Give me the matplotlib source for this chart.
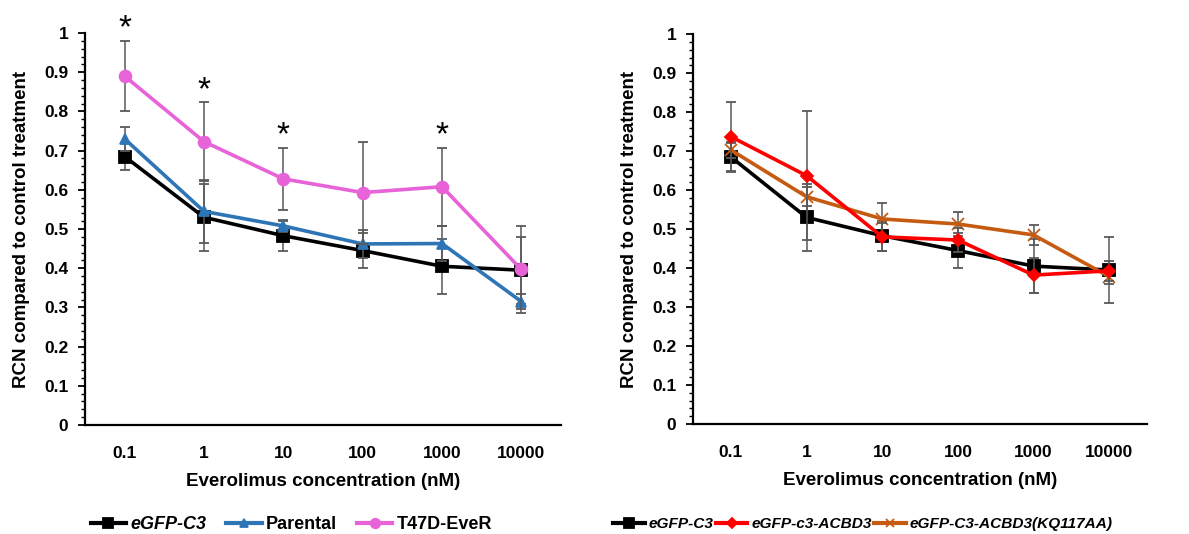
import matplotlib
matplotlib.use("Agg")
import matplotlib.pyplot as plt
from matplotlib.ticker import MultipleLocator, FuncFormatter
from matplotlib.lines import Line2D

plt.rcParams['font.family'] = ['Liberation Sans', 'DejaVu Sans']
plt.rcParams['font.weight'] = 'bold'

concentrations = ["0.1", "1", "10", "100", "1000", "10000"]

# Left panel
egfp_c3 = [0.685, 0.530, 0.483, 0.445, 0.405, 0.395]
egfp_c3_err = [0.035, 0.085, 0.038, 0.045, 0.070, 0.085]
parental = [0.730, 0.545, 0.508, 0.462, 0.463, 0.315]
parental_err = [0.030, 0.080, 0.015, 0.035, 0.045, 0.020]
t47d_ever = [0.890, 0.723, 0.628, 0.593, 0.608, 0.397]
t47d_ever_err = [0.090, 0.100, 0.080, 0.130, 0.100, 0.110]
significant = [True, True, True, False, True, False]

# Right panel
acbd3 = [0.737, 0.637, 0.480, 0.472, 0.382, 0.393]
acbd3_err = [0.090, 0.165, 0.035, 0.030, 0.045, 0.025]
kq117aa = [0.703, 0.583, 0.526, 0.513, 0.485, 0.378]
kq117aa_err = [0.020, 0.025, 0.040, 0.030, 0.025, 0.020]

BLACK = "#000000"
BLUE = "#2E75B6"
PINK = "#E862D8"
RED = "#FF0000"
ORANGE = "#C55A11"
ERR = "#595959"

fig = plt.figure(figsize=(11.89, 5.34), dpi=100)
ax1 = fig.add_axes([0.0715, 0.2041, 0.4003, 0.734])
ax2 = fig.add_axes([0.5829, 0.206, 0.3818, 0.730])

x = list(range(len(concentrations)))


def series(ax, y, err, color, marker, ms, z):
    ax.errorbar(x, y, yerr=err, color=color, marker=marker, markersize=ms,
                linewidth=2.6, ecolor=ERR, elinewidth=1.1, capsize=3.5,
                capthick=1.1, zorder=z,
                markeredgecolor=color, markeredgewidth=1.3)
    return Line2D([], [], color=color, marker=marker, markersize=ms * 0.8,
                  linewidth=3.0, markeredgecolor=color, markeredgewidth=1.3)


def tick_fmt(v, _):
    s = f"{v:.1f}"
    return {"0.0": "0", "1.0": "1"}.get(s, s)


for ax in (ax1, ax2):
    ax.set_xlim(-0.5, 5.5)
    ax.set_ylim(0, 1)
    ax.set_xticks(x)
    ax.set_xticklabels(concentrations)
    ax.yaxis.set_major_locator(MultipleLocator(0.1))
    ax.yaxis.set_minor_locator(MultipleLocator(0.02))
    ax.yaxis.set_major_formatter(FuncFormatter(tick_fmt))
    ax.spines['top'].set_visible(False)
    ax.spines['right'].set_visible(False)
    ax.spines['left'].set_linewidth(1.6)
    ax.spines['bottom'].set_linewidth(1.6)
    ax.tick_params(axis='x', length=0, pad=15, labelsize=12.5)
    ax.tick_params(axis='y', which='major', length=5, width=1.3, labelsize=12.5, pad=7)
    ax.tick_params(axis='y', which='minor', length=3, width=1.0)
    for lbl in ax.get_xticklabels() + ax.get_yticklabels():
        lbl.set_fontweight('bold')
    ax.set_xlabel("Everolimus concentration (nM)", fontsize=13.5, fontweight='bold', labelpad=9)
    ax.set_ylabel("RCN compared to control treatment", fontsize=13.5, fontweight='bold', labelpad=10)

# Left panel series
h1 = series(ax1, egfp_c3, egfp_c3_err, BLACK, 's', 8.5, 3)
h2 = series(ax1, parental, parental_err, BLUE, '^', 7.5, 4)
h3 = series(ax1, t47d_ever, t47d_ever_err, PINK, 'o', 8.5, 5)
for i, sig in enumerate(significant):
    if sig:
        ax1.text(x[i], t47d_ever[i] + t47d_ever_err[i] + 0.03, "*",
                 ha='center', va='center', fontsize=24, fontweight='normal')

# Right panel series
g1 = series(ax2, egfp_c3, egfp_c3_err, BLACK, 's', 8.5, 3)
g2 = series(ax2, acbd3, acbd3_err, RED, 'D', 6, 5)
g3 = series(ax2, kq117aa, kq117aa_err, ORANGE, 'x', 8, 4)

leg1 = fig.legend(handles=[h1, h2, h3], labels=["eGFP-C3", "Parental", "T47D-EveR"],
                  loc='center left', bbox_to_anchor=(0.0764, 0.018),
                  ncol=3, frameon=False, fontsize=13, handlelength=1.95,
                  handletextpad=0.25, columnspacing=1.1, borderpad=0, borderaxespad=0)
leg2 = fig.legend(handles=[g1, g2, g3],
                  labels=["eGFP-C3", "eGFP-c3-ACBD3", "eGFP-C3-ACBD3(KQ117AA)"],
                  loc='center left', bbox_to_anchor=(0.5155, 0.018),
                  ncol=3, frameon=False, fontsize=11.1, handlelength=2.05,
                  handletextpad=0.26, columnspacing=0.15, borderpad=0, borderaxespad=0)

italic_labels = {"eGFP-C3", "eGFP-c3-ACBD3", "eGFP-C3-ACBD3(KQ117AA)"}
for leg in (leg1, leg2):
    for t in leg.get_texts():
        t.set_fontweight('bold')
        if t.get_text() in italic_labels:
            t.set_fontstyle('italic')

fig.savefig("out.png", dpi=100)
